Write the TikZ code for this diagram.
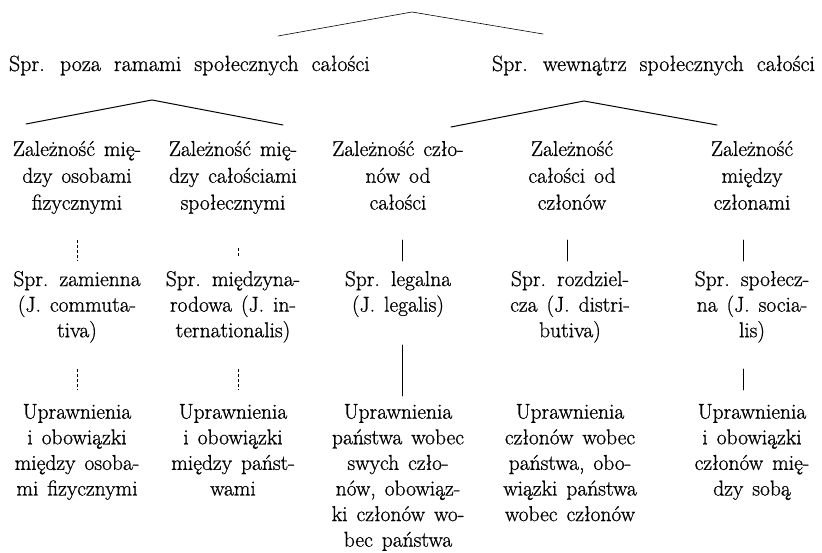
\documentclass[tikz,border=0pt]{standalone}
\usepackage{fontspec}
\newfontfamily\reffont{Latin Modern Roman}[FakeBold=0.8]
\begin{document}
\begin{tikzpicture}[x=1pt,y=-1pt,
  lbl/.style={inner sep=0pt, outer sep=0pt, align=center,
    font=\reffont\fontsize{21.5}{25.6}\selectfont,
    execute at begin node={\spaceskip=9pt plus 2pt\relax}},
  toplbl/.style={lbl, font=\reffont\fontsize{21.5}{26.8}\selectfont},
  headlbl/.style={inner sep=0pt, outer sep=0pt,
    font=\reffont\fontsize{22}{26}\selectfont,
    execute at begin node={\spaceskip=13pt plus 2pt\relax}},
  conn/.style={line width=0.8pt, line cap=round},
  faint/.style={line width=0.5pt, densely dashed},
]
\useasboundingbox[fill=white] (0,0) rectangle (822,553);

% level 1
\node[headlbl, anchor=base west] (sa) at (9,71) {Spr. poza ramami społecznych całości};
\node[headlbl, anchor=base east] (sb) at (815,71) {Spr. wewnątrz społecznych całości};

% top V
\coordinate (top) at (412,12);
\coordinate (topl) at (278,36);
\coordinate (topr) at (543,34);
\draw[conn, line width=0.6pt] (topl) -- (top) -- (topr);

% level-2 Vs
\coordinate (va) at (152,100);
\coordinate (val) at (26,124);
\coordinate (var) at (283,125);
\draw[conn, line width=1pt] (val) -- (va) -- (var);
\coordinate (vb) at (584,101);
\coordinate (vbl) at (451,127);
\coordinate (vbr) at (717,125);
\draw[conn, line width=1pt] (vbl) -- (vb) -- (vbr);

% level 2
\node[toplbl, anchor=north] (a1) at (77,141) {Zależność mię-\\dzy osobami\\fizycznymi};
\node[toplbl, anchor=north] (a2) at (233,141) {Zależność mię-\\dzy całościami\\społecznymi};
\node[toplbl, anchor=north] (a3) at (398,141) {Zależność czło-\\nów od\\całości};
\node[toplbl, anchor=north] (a4) at (572,141) {Zależność\\całości od\\członów};
\node[toplbl, anchor=north] (a5) at (752,141) {Zależność\\między\\członami};

% level 3
\node[lbl, anchor=north] (b1) at (77,271) {Spr. zamienna\\(J. commuta-\\tiva)};
\node[lbl, anchor=north] (b2) at (233,271) {Spr. międzyna-\\rodowa (J. in-\\ternationalis)};
\node[lbl, anchor=north] (b3) at (398,271) {Spr. legalna\\(J. legalis)};
\node[lbl, anchor=north] (b4) at (570,271) {Spr. rozdziel-\\cza (J. distri-\\butiva)};
\node[lbl, anchor=north] (b5) at (752,271) {Spr. społecz-\\na (J. socia-\\lis)};

% level 4
\node[lbl, anchor=north] (c1) at (77,404) {Uprawnienia\\i obowiązki\\między osoba-\\mi fizycznymi};
\node[lbl, anchor=north] (c2) at (233,404) {Uprawnienia\\i obowiązki\\między państ-\\wami};
\node[lbl, anchor=north] (c3) at (398,404) {Uprawnienia\\państwa wobec\\swych czło-\\nów, obowiąz-\\ki członów wo-\\bec państwa};
\node[lbl, anchor=north] (c4) at (570,404) {Uprawnienia\\członów wobec\\państwa, obo-\\wiązki państwa\\wobec członów};
\node[lbl, anchor=north] (c5) at (752,404) {Uprawnienia\\i obowiązki\\członów mię-\\dzy sobą};

% vertical connectors level 2 -> 3
\coordinate (ua) at (0,240);
\coordinate (ub) at (0,261);
\coordinate (uc) at (0,248);
\coordinate (ud) at (0,256);
\coordinate (x1) at (77,0);
\coordinate (x2) at (238,0);
\coordinate (x3) at (402,0);
\coordinate (x4) at (567,0);
\coordinate (x5) at (743,0);
\draw[faint] (x1 |- ua) -- (x1 |- ub);
\draw[faint] (x2 |- uc) -- (x2 |- ud);
\draw[conn] (x3 |- ua) -- (x3 |- ub);
\draw[conn] (x4 |- ua) -- (x4 |- ub);
\draw[conn] (x5 |- ua) -- (x5 |- ub);

% vertical connectors level 3 -> 4
\coordinate (la) at (0,345);
\coordinate (lb) at (0,396);
\coordinate (lc) at (0,369);
\coordinate (ld) at (0,390);
\draw[faint] (x1 |- lc) -- (x1 |- ld);
\draw[faint] (x2 |- lc) -- (x2 |- ld);
\draw[conn] (x3 |- la) -- (x3 |- lb);
\draw[conn] (x5 |- lc) -- (x5 |- ld);
\end{tikzpicture}
\end{document}
